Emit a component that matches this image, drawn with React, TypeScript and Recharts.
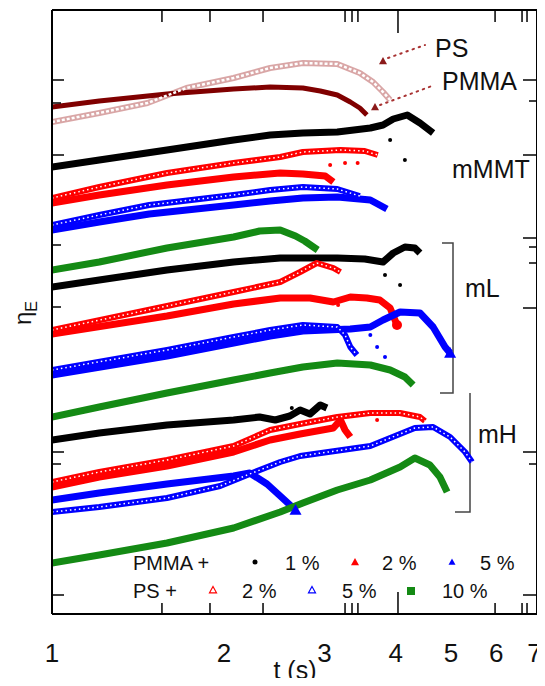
import { ComposedChart, Line, Scatter, XAxis, YAxis, Customized } from 'recharts';

const FONT = '"Liberation Sans", Arial, sans-serif';

// time axis (s), log scale
const xLabelTicks = [1, 2, 3, 4, 5, 6, 7];
const xMarkTicks = [1.558, 1.891, 2.342, 3.26, 3.353, 3.434, 4.036, 5.97, 6.656, 6.791];
const xMajorMark = 4.036;

// eta_E, arbitrary shifted units (curves are offset vertically)
const yLeftTicks = [534, 511, 459, 369, 307, 162, 150, 19];
const yRightTicks = [534, 513, 459, 376, 367, 351, 306, 162, 150, 19];
const yMajorTicks = [534, 459, 376, 306, 162, 19];

// [t, eta] pairs
const neatPMMA = [[1.0, 507], [1.21, 513], [1.59, 520], [2.08, 525], [2.41, 527], [2.75, 526], [2.95, 523], [3.16, 519], [3.33, 512], [3.46, 506], [3.56, 499]];
const neatPS = [[1.0, 492], [1.21, 501], [1.47, 511], [1.72, 526], [2.08, 536], [2.41, 546], [2.75, 551], [3.16, 550], [3.46, 541], [3.65, 532], [3.8, 522], [3.91, 514]];

const mmmtPMMA1 = [[1.0, 447], [1.21, 454], [1.59, 464], [2.08, 474], [2.41, 479], [2.75, 481], [3.16, 482], [3.61, 486], [3.8, 489], [3.96, 495], [4.19, 499], [4.41, 491], [4.65, 481]];
const mmmtPS2 = [[1.0, 416], [1.21, 427], [1.59, 441], [2.08, 451], [2.51, 457], [2.75, 462], [3.2, 464], [3.53, 463], [3.72, 459]];
const mmmtPMMA2 = [[1.0, 411], [1.21, 419], [1.59, 429], [2.08, 437], [2.51, 441], [2.75, 440], [3.01, 438], [3.11, 432]];
const mmmtPS5 = [[1.0, 389], [1.21, 399], [1.48, 409], [2.08, 419], [2.41, 424], [2.75, 427], [3.16, 425], [3.46, 418]];
const mmmtPMMA5 = [[1.0, 384], [1.21, 392], [1.48, 400], [2.08, 409], [2.41, 413], [2.75, 416], [3.16, 417], [3.61, 414], [3.86, 405]];
const mmmtPS10 = [[1.0, 344], [1.21, 352], [1.59, 366], [2.08, 377], [2.31, 383], [2.51, 384], [2.67, 378], [2.77, 373], [2.92, 364]];

const mlPMMA1 = [[1.0, 327], [1.21, 334], [1.59, 344], [2.08, 352], [2.51, 356], [3.16, 356], [3.53, 355], [3.8, 352], [3.96, 361], [4.15, 367], [4.32, 366], [4.41, 361]];
const mlPS2 = [[1.0, 284], [1.59, 308], [2.08, 322], [2.51, 332], [2.72, 342], [2.91, 351], [3.11, 346], [3.2, 342]];
const mlPMMA2 = [[1.0, 280], [1.59, 298], [2.08, 310], [2.51, 316], [2.83, 316], [3.11, 312], [3.33, 317], [3.56, 316], [3.75, 314], [3.91, 306], [4.02, 289]];
const mlPS5 = [[1.0, 244], [1.59, 264], [2.08, 277], [2.41, 284], [2.75, 289], [3.16, 287], [3.26, 279], [3.33, 267], [3.42, 259]];
const mlPMMA5 = [[1.0, 239], [1.59, 258], [2.08, 271], [2.41, 278], [2.75, 283], [3.33, 285], [3.61, 287], [3.8, 294], [4.07, 302], [4.41, 301], [4.65, 287], [4.88, 267], [4.98, 261]];
const mlPS10 = [[1.0, 197], [1.21, 207], [1.59, 221], [2.08, 234], [2.41, 241], [2.75, 247], [3.16, 251], [3.61, 249], [3.91, 244], [4.15, 237], [4.29, 229]];

const mhPMMA1 = [[1.0, 174], [1.21, 181], [1.59, 189], [2.08, 194], [2.31, 197], [2.46, 194], [2.61, 198], [2.72, 204], [2.83, 200], [2.95, 209], [3.03, 206]];
const mhPS2 = [[1.0, 132], [1.21, 142], [1.59, 154], [2.08, 168], [2.41, 184], [2.72, 190], [3.16, 197], [3.61, 201], [4.07, 201], [4.41, 197], [4.5, 193]];
const mhPMMA2 = [[1.0, 127], [1.21, 137], [1.59, 148], [2.08, 162], [2.41, 174], [2.72, 180], [3.11, 186], [3.2, 194], [3.26, 184], [3.33, 177]];
const mhPS5 = [[1.0, 102], [1.21, 107], [1.59, 116], [1.97, 128], [2.22, 140], [2.51, 152], [2.72, 158], [3.61, 168], [4.32, 186], [4.65, 187], [4.98, 177], [5.29, 162], [5.44, 152]];
const mhPMMA5 = [[1.0, 114], [1.21, 121], [1.59, 130], [2.08, 138], [2.22, 141], [2.38, 130], [2.51, 118], [2.67, 104]];
const mhPS10 = [[1.0, 51], [1.21, 59], [1.59, 71], [2.08, 86], [2.51, 102], [2.75, 111], [3.16, 124], [3.61, 134], [4.07, 147], [4.32, 156], [4.59, 149], [4.78, 137], [4.92, 122]];

// isolated points after rupture
const strayBlack = [[3.91, 474], [4.15, 454], [3.83, 339], [4.07, 329], [2.63, 206]];
const strayRed = [[3.07, 449], [3.26, 451], [3.43, 451], [3.17, 309], [3.71, 194]];
const strayBlue = [[3.61, 279], [3.71, 267], [3.83, 257]];

const toPts = (arr: number[][]) => arr.map(([t, v]) => ({ t, v }));

const RED = '#ff0000';
const BLUE = '#0000ff';
const GREEN = '#148a14';

const series = [
  { key: 'neatPS', data: neatPS, color: '#c98080', open: true, end: '' },
  { key: 'neatPMMA', data: neatPMMA, color: '#800000', open: false, end: '' },
  { key: 'mmmtPMMA1', data: mmmtPMMA1, color: '#000000', open: false, end: '' },
  { key: 'mmmtPS2', data: mmmtPS2, color: RED, open: true, end: '' },
  { key: 'mmmtPMMA2', data: mmmtPMMA2, color: RED, open: false, end: '' },
  { key: 'mmmtPS5', data: mmmtPS5, color: BLUE, open: true, end: '' },
  { key: 'mmmtPMMA5', data: mmmtPMMA5, color: BLUE, open: false, end: '' },
  { key: 'mmmtPS10', data: mmmtPS10, color: GREEN, open: false, end: '' },
  { key: 'mlPMMA1', data: mlPMMA1, color: '#000000', open: false, end: '' },
  { key: 'mlPS2', data: mlPS2, color: RED, open: true, end: '' },
  { key: 'mlPMMA2', data: mlPMMA2, color: RED, open: false, end: 'blob' },
  { key: 'mlPS5', data: mlPS5, color: BLUE, open: true, end: '' },
  { key: 'mlPMMA5', data: mlPMMA5, color: BLUE, open: false, end: 'tri' },
  { key: 'mlPS10', data: mlPS10, color: GREEN, open: false, end: '' },
  { key: 'mhPMMA1', data: mhPMMA1, color: '#000000', open: false, end: '' },
  { key: 'mhPS2', data: mhPS2, color: RED, open: true, end: '' },
  { key: 'mhPMMA2', data: mhPMMA2, color: RED, open: false, end: '' },
  { key: 'mhPS5', data: mhPS5, color: BLUE, open: true, end: '' },
  { key: 'mhPMMA5', data: mhPMMA5, color: BLUE, open: false, end: 'tri' },
  { key: 'mhPS10', data: mhPS10, color: GREEN, open: false, end: '' },
];

const tri = (cx: number, cy: number, s: number) =>
  `M${cx},${cy - s} L${cx + s},${cy + s * 0.8} L${cx - s},${cy + s * 0.8} Z`;

const endDot = (kind: string, color: string, last: number) => (p: any) => {
  if (p.index !== last || !kind) return <g key={p.index} />;
  if (kind === 'tri') return <path key={p.index} d={tri(p.cx, p.cy, 6)} fill={color} />;
  return <circle key={p.index} cx={p.cx} cy={p.cy} r={5} fill={color} />;
};

const BottomTick = (props: any) => {
  const { x, y, payload } = props;
  const val = payload.value;
  if (xLabelTicks.includes(val)) {
    return (
      <text x={x} y={y + 48} textAnchor="middle" fontSize={26} fontFamily={FONT} fill="#111">
        {val}
      </text>
    );
  }
  const len = val === xMajorMark ? 22 : 11;
  return <line x1={x} x2={x} y1={y} y2={y - len} stroke="#000" strokeWidth={1.5} />;
};

const TopTick = (props: any) => {
  const { x, y, payload } = props;
  const len = payload.value === xMajorMark ? 23 : 12;
  return <line x1={x} x2={x} y1={y} y2={y + len} stroke="#000" strokeWidth={1.5} />;
};

const LeftTick = (props: any) => {
  const { x, y, payload } = props;
  const len = yMajorTicks.includes(payload.value) ? 12 : 9;
  return <line x1={x} x2={x + len} y1={y} y2={y} stroke="#000" strokeWidth={1.5} />;
};

const RightTick = (props: any) => {
  const { x, y, payload } = props;
  const len = yMajorTicks.includes(payload.value) ? 14 : 8;
  return <line x1={x} x2={x - len} y1={y} y2={y} stroke="#000" strokeWidth={1.5} />;
};

const smallDot = (color: string) => (p: any) => <circle cx={p.cx} cy={p.cy} r={2} fill={color} />;

const Annotations = () => (
  <g fontFamily={FONT} fill="#111">
    {/* y label */}
    <g transform="translate(31,313)">
      <text transform="rotate(-90)" textAnchor="middle" fontSize={24}>
        η<tspan fontSize={16} dy={6}>E</tspan>
      </text>
    </g>
    {/* x label */}
    <text x={295} y={679} textAnchor="middle" fontSize={25}>t (s)</text>

    {/* neat polymer labels with dotted pointers */}
    <line x1={388} y1={58} x2={425} y2={45} stroke="#a83232" strokeWidth={2} strokeDasharray="1.5 5" strokeLinecap="round" />
    <path d={tri(383, 61, 4)} fill="#8b1a1a" />
    <line x1={380} y1={105} x2={432} y2={86} stroke="#a83232" strokeWidth={2} strokeDasharray="1.5 5" strokeLinecap="round" />
    <path d={tri(375, 107, 4)} fill="#8b1a1a" />
    <text x={435} y={57} fontSize={25}>PS</text>
    <text x={442} y={90} fontSize={25}>PMMA</text>

    {/* group labels */}
    <text x={452} y={178} fontSize={25}>mMMT</text>
    <polyline points="442,243 453,243 453,393 440,393" fill="none" stroke="#444" strokeWidth={1.5} />
    <text x={465} y={297} fontSize={25}>mL</text>
    <polyline points="470,393 470,512 455,512" fill="none" stroke="#444" strokeWidth={1.5} />
    <text x={478} y={443} fontSize={25}>mH</text>

    {/* legend */}
    <g fontSize={20}>
      <text x={133} y={570}>PMMA +</text>
      <circle cx={255} cy={562} r={2.5} fill="#000" />
      <text x={285} y={570}>1 %</text>
      <path d={tri(355, 562, 4)} fill={RED} />
      <text x={382} y={570}>2 %</text>
      <path d={tri(452, 562, 3.5)} fill={BLUE} />
      <text x={480} y={570}>5 %</text>

      <text x={133} y={598}>PS +</text>
      <path d={tri(213, 590, 3.5)} fill="none" stroke={RED} strokeWidth={1.2} />
      <text x={242} y={598}>2 %</text>
      <path d={tri(312, 590, 3.5)} fill="none" stroke={BLUE} strokeWidth={1.2} />
      <text x={342} y={598}>5 %</text>
      <rect x={407} y={587} width={8} height={8} fill={GREEN} />
      <text x={442} y={598}>10 %</text>
    </g>
  </g>
);

export default function App() {
  return (
    <div style={{ margin: -8, width: 545, height: 686, background: '#fff' }}>
      <ComposedChart width={545} height={686} margin={{ top: 9, right: 0, bottom: 0, left: 0 }}>
        <XAxis
          xAxisId="b"
          type="number"
          dataKey="t"
          scale="log"
          domain={[1, 7.07]}
          allowDataOverflow
          ticks={[...xLabelTicks, ...xMarkTicks]}
          interval={0}
          tickLine={false}
          tickSize={0}
          tickMargin={0}
          height={72}
          tick={BottomTick}
          axisLine={{ stroke: '#000', strokeWidth: 2 }}
        />
        <XAxis
          xAxisId="top"
          orientation="top"
          type="number"
          dataKey="t"
          scale="log"
          domain={[1, 7.07]}
          allowDataOverflow
          ticks={xMarkTicks}
          interval={0}
          tickLine={false}
          tickSize={0}
          tickMargin={0}
          height={1}
          tick={TopTick}
          axisLine={{ stroke: '#000', strokeWidth: 2 }}
        />
        <YAxis
          yAxisId="l"
          type="number"
          dataKey="v"
          domain={[0, 604]}
          allowDataOverflow
          ticks={yLeftTicks}
          interval={0}
          tickLine={false}
          tickSize={0}
          tickMargin={0}
          width={52}
          tick={LeftTick}
          axisLine={{ stroke: '#000', strokeWidth: 2 }}
        />
        <YAxis
          yAxisId="r"
          orientation="right"
          type="number"
          domain={[0, 604]}
          allowDataOverflow
          ticks={yRightTicks}
          interval={0}
          tickLine={false}
          tickSize={0}
          tickMargin={0}
          width={8}
          tick={RightTick}
          axisLine={{ stroke: '#000', strokeWidth: 2 }}
        />
        {series.map((s) => (
          <Line
            key={s.key}
            xAxisId="b"
            yAxisId="l"
            data={toPts(s.data)}
            dataKey="v"
            type="linear"
            stroke={s.color}
            strokeWidth={s.key === 'neatPMMA' ? 5 : s.open ? 6 : 7}
            strokeOpacity={s.key === 'neatPS' ? 0.7 : 1}
            strokeLinejoin="round"
            dot={endDot(s.end, s.color, s.data.length - 1)}
            activeDot={false}
            isAnimationActive={false}
          />
        ))}
        {series
          .filter((s) => s.open)
          .map((s) => (
            <Line
              key={s.key + '-holes'}
              xAxisId="b"
              yAxisId="l"
              data={toPts(s.data)}
              dataKey="v"
              type="linear"
              stroke="#fff"
              strokeWidth={s.key === 'neatPS' ? 2.5 : 1.5}
              strokeDasharray={s.key === 'neatPS' ? '3 2' : '1.5 3'}
              dot={false}
              activeDot={false}
              isAnimationActive={false}
            />
          ))}
        <Scatter xAxisId="b" yAxisId="l" data={toPts(strayBlack)} dataKey="v" shape={smallDot('#000')} isAnimationActive={false} />
        <Scatter xAxisId="b" yAxisId="l" data={toPts(strayRed)} dataKey="v" shape={smallDot(RED)} isAnimationActive={false} />
        <Scatter xAxisId="b" yAxisId="l" data={toPts(strayBlue)} dataKey="v" shape={smallDot(BLUE)} isAnimationActive={false} />
        <Customized component={Annotations} />
      </ComposedChart>
    </div>
  );
}
